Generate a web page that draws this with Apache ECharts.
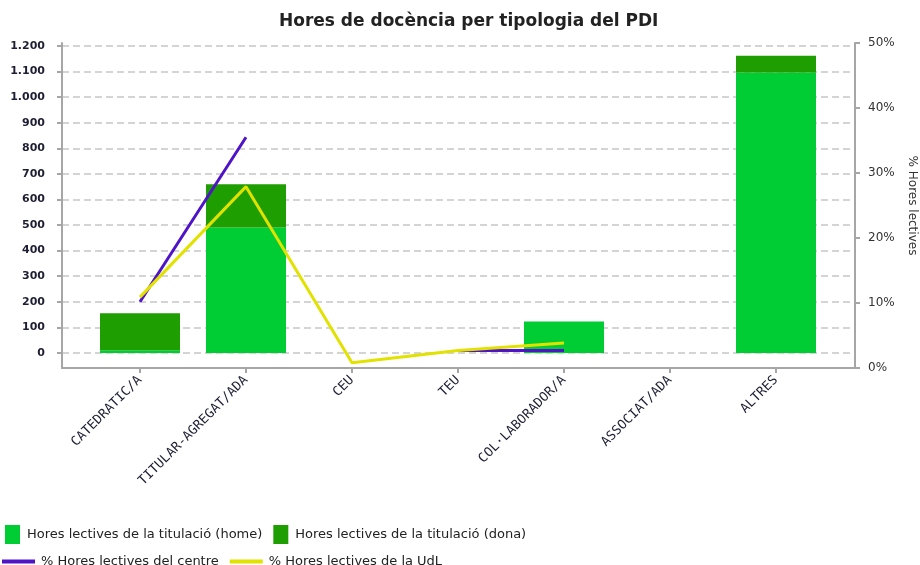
<!DOCTYPE html>
<html>
<head>
<meta charset="utf-8">
<script src="https://cdn.jsdelivr.net/npm/echarts@6/dist/echarts.min.js"></script>
<style>
  html, body { margin: 0; padding: 0; background: #fff; }
  #chart { width: 920px; height: 565px; }
</style>
</head>
<body>
<div id="chart"></div>
<script>
// categories and values
const categories = ['CATEDRATIC/A', 'TITULAR-AGREGAT/ADA', 'CEU', 'TEU', 'COL·LABORADOR/A', 'ASSOCIAT/ADA', 'ALTRES'];
const horesHome = [10, 490, 0, 0, 123, 0, 1097];
const horesDona = [145, 170, 0, 0, 0, 0, 65];
const pctCentre = [10.2, 35.5, null, 2.7, 2.7, null, null];
const pctUdL = [10.9, 27.9, 0.8, 2.7, 3.85, null, null];
const leftTicks = [0, 100, 200, 300, 400, 500, 600, 700, 800, 900, 1000, 1100, 1200];

const leftMin = -59;
const leftMax = 1212;

const chart = echarts.init(document.getElementById('chart'));

const axisGray = '#a6a6a6';
const labelColor = '#1d1d33';

const option = {
  animation: false,
  title: {
    text: 'Hores de docència per tipologia del PDI',
    left: 274,
    top: 8,
    textStyle: {
      fontFamily: 'DejaVu Sans',
      fontSize: 17,
      fontWeight: 'bold',
      color: '#222'
    }
  },
  legend: [
    {
      data: ['Hores lectives de la titulació (home)', 'Hores lectives de la titulació (dona)'],
      left: 0,
      top: 520,
      icon: 'rect',
      itemWidth: 15,
      itemHeight: 19,
      itemGap: 11,
      textStyle: { fontFamily: 'DejaVu Sans', fontSize: 13, color: '#222', padding: [0, 0, 0, 2] }
    },
    {
      data: ['% Hores lectives del centre', '% Hores lectives de la UdL'],
      left: -3,
      top: 550,
      icon: 'rect',
      itemWidth: 33,
      itemHeight: 4,
      itemGap: 11,
      textStyle: { fontFamily: 'DejaVu Sans', fontSize: 13, color: '#222', padding: [0, 0, 0, 1] }
    }
  ],
  grid: [
    { left: 62, right: 65, top: 43, bottom: 197, outerBoundsMode: 'none' },
    { left: 87, right: 91, top: 43, bottom: 197, outerBoundsMode: 'none' }
  ],
  xAxis: [
    {
      gridIndex: 0,
      type: 'value',
      min: 0,
      max: 1,
      axisLine: { show: true, onZero: false, lineStyle: { color: axisGray, width: 2 } },
      axisTick: { show: false },
      axisLabel: { show: false },
      splitLine: { show: false }
    },
    {
      gridIndex: 1,
      type: 'category',
      data: categories,
      axisLine: { show: false, onZero: false },
      axisTick: { show: true, alignWithLabel: true, length: 5, lineStyle: { color: axisGray, width: 2 } },
      axisLabel: {
        rotate: 45,
        interval: 0,
        margin: 10,
        fontFamily: 'DejaVu Sans Mono',
        fontSize: 13,
        color: labelColor
      },
      splitLine: { show: false }
    }
  ],
  yAxis: [
    {
      gridIndex: 0,
      type: 'value',
      position: 'left',
      min: leftMin,
      max: leftMax,
      axisLine: { show: true, lineStyle: { color: axisGray, width: 2 } },
      axisTick: { show: true, length: 5, customValues: leftTicks, lineStyle: { color: axisGray, width: 2 } },
      axisLabel: {
        customValues: leftTicks,
        margin: 17,
        fontFamily: 'DejaVu Sans',
        fontWeight: 'bold',
        fontSize: 11,
        color: labelColor,
        formatter: v => v.toLocaleString('de-DE')
      },
      splitLine: { show: true, lineStyle: { color: '#c6c6c6', width: 1.5, type: [7, 4] } }
    },
    {
      gridIndex: 0,
      type: 'value',
      position: 'right',
      min: 0,
      max: 50,
      interval: 10,
      name: '% Hores lectives',
      nameLocation: 'middle',
      nameRotate: -90,
      nameGap: 51,
      nameTextStyle: { fontFamily: 'DejaVu Sans', fontSize: 12, color: '#333' },
      axisLine: { show: true, lineStyle: { color: axisGray, width: 2 } },
      axisTick: { show: true, length: 5, lineStyle: { color: axisGray, width: 2 } },
      axisLabel: {
        margin: 13,
        fontFamily: 'DejaVu Sans',
        fontSize: 12,
        color: '#333',
        formatter: '{value}%'
      },
      splitLine: { show: false }
    },
    {
      gridIndex: 1, type: 'value', min: leftMin, max: leftMax, show: false, splitLine: { show: false }
    },
    {
      gridIndex: 1, type: 'value', min: 0, max: 50, show: false, splitLine: { show: false }
    }
  ],
  series: [
    {
      name: 'Hores lectives de la titulació (home)',
      type: 'bar',
      stack: 'hores',
      xAxisIndex: 1,
      yAxisIndex: 2,
      barWidth: 80,
      itemStyle: { color: '#00cc33' },
      data: horesHome
    },
    {
      name: 'Hores lectives de la titulació (dona)',
      type: 'bar',
      stack: 'hores',
      xAxisIndex: 1,
      yAxisIndex: 2,
      barWidth: 80,
      itemStyle: { color: '#1e9e00' },
      data: horesDona
    },
    {
      name: '% Hores lectives del centre',
      type: 'line',
      xAxisIndex: 1,
      yAxisIndex: 3,
      showSymbol: false,
      symbol: 'none',
      connectNulls: false,
      lineStyle: { color: '#5014c8', width: 3 },
      itemStyle: { color: '#5014c8' },
      data: pctCentre
    },
    {
      name: '% Hores lectives de la UdL',
      type: 'line',
      xAxisIndex: 1,
      yAxisIndex: 3,
      showSymbol: false,
      symbol: 'none',
      connectNulls: false,
      lineStyle: { color: '#e2e200', width: 3 },
      itemStyle: { color: '#e2e200' },
      data: pctUdL
    }
  ]
};

chart.setOption(option);
</script>
</body>
</html>
